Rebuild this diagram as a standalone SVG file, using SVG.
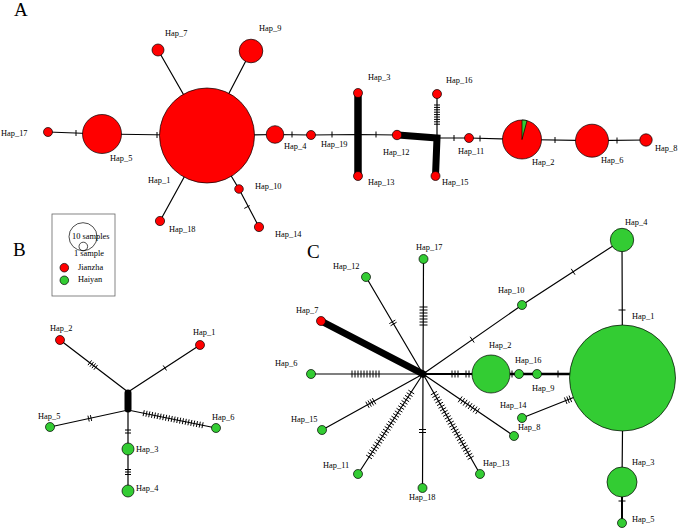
<svg xmlns="http://www.w3.org/2000/svg" width="678" height="529" viewBox="0 0 678 529">
<style>
.bg{fill:#ffffff}
.ln{stroke:#000;stroke-width:1.2;fill:none}
.thk{stroke:#000;fill:none;stroke-linecap:round}
.tk{stroke:#000;stroke-width:1;fill:none}
.r{fill:#ff0000;stroke:#000;stroke-width:0.7}
.g{fill:#33cc33;stroke:#000;stroke-width:0.7}
.w{fill:none;stroke:#000;stroke-width:0.7}
text{font-family:"Liberation Serif","Times New Roman",serif;font-size:8.4px;fill:#000}
.pl{font-size:19px}
</style>
<rect class="bg" x="0" y="0" width="678" height="529"/>

<g id="panel-labels">
<text class="pl" x="14" y="16">A</text>
<text class="pl" x="13" y="256">B</text>
<text class="pl" x="307" y="258">C</text>
</g>

<g id="connectors">
<!-- Panel A -->
<path class="ln" d="M48 132 L102 134 L207 135.5 L275 134.5 L311 135 L358 134.5 L397 135"/>
<path class="ln" d="M437 138 L469 138 L522 139.5 L592 140.7 L646 140"/>
<path class="ln" d="M158 50 L207 135.5 M251 51 L207 135.5 M160 221 L207 135.5 M207 135.5 L239 189 L259 227"/>
<path class="ln" d="M437 94 L437 138"/>
<path class="thk" stroke-width="7.5" d="M358 94 L358 176"/>
<path class="thk" stroke-width="7" d="M398 135 L437 138 L435.5 176"/>
<path class="tk" d="M76 130 v6 M157 132 v6 M292 131.5 v6 M332 131.5 v6 M376 131.5 v6 M454 135 v6 M480 135.5 v6 M555 137 v6 M617 137.5 v6 M244.3 208.4 L249.7 205.6
M434 105 h6 M434 107.4 h6 M434 109.8 h6 M434 112.2 h6 M434 114.6 h6 M434 117 h6 M434 119.4 h6 M434 121.8 h6 M434 124.2 h6"/>

<!-- Panel B -->
<path class="ln" d="M60 340 L128 392 L200 345 M50 427 L128 410 L216 428 M128 410 L128 491"/>
<path class="thk" stroke-width="7" d="M128 393 L128 409"/>
<path class="tk" d="M87.96 365.14 l3.64 -4.76 M89.94 366.66 l3.64 -4.76 M91.93 368.18 l3.64 -4.76 M93.91 369.70 l3.64 -4.76
M163.21 365.46 l3.28 5.02
M87.95 415.66 l1.28 5.86 M90.39 415.12 l1.28 5.86
M125 430 h6 M125 433 h6
M125 469.5 h6 M125 472 h6 M125 474.5 h6
M144.28 410.26 l-1.2 5.88 M147.08 410.83 l-1.2 5.88 M149.89 411.40 l-1.2 5.88 M152.69 411.98 l-1.2 5.88 M155.49 412.55 l-1.2 5.88 M158.29 413.12 l-1.2 5.88 M161.10 413.69 l-1.2 5.88 M163.90 414.26 l-1.2 5.88 M166.70 414.84 l-1.2 5.88 M169.51 415.41 l-1.2 5.88 M172.31 415.98 l-1.2 5.88 M175.11 416.55 l-1.2 5.88 M177.91 417.12 l-1.2 5.88 M180.72 417.70 l-1.2 5.88 M183.52 418.27 l-1.2 5.88 M186.32 418.84 l-1.2 5.88 M189.12 419.41 l-1.2 5.88 M191.93 419.98 l-1.2 5.88 M194.73 420.56 l-1.2 5.88 M197.53 421.13 l-1.2 5.88 M200.34 421.70 l-1.2 5.88 M203.14 422.27 l-1.2 5.88"/>

<!-- Panel C -->
<path class="ln" d="M423 374 L423.5 259 M423 374 L366 277 M423 374 L522 305 L622 240 L622.5 378 M423 374 L311 374 M423 374 L322 430 M423 374 L358 474 M423 374 L422.5 488 M423 374 L480 474 M423 374 L514 436 M522 418 L622.5 378 M622.5 431 L622 482"/>
<path class="thk" stroke-width="7" d="M321 321 L423 374"/>
<path class="thk" stroke-width="2" d="M423 374 L472 374"/>
<path class="thk" stroke-width="2.4" d="M472 374 L570 374"/>
<path class="thk" stroke-width="2" d="M622 497 L622 523"/>
<path class="tk" d="M419.5 307 h8 M419.5 310 h8 M419.5 313 h8 M419.5 316 h8 M419.5 319 h8 M419.5 322 h8 M419.5 325 h8
M390.57 325.77 l6.04 -3.54 M389.31 323.62 l6.04 -3.54
M470.2 336.81 l4 5.74 M571.21 268.83 l3.82 5.86
M352 370.5 v7 M355 370.5 v7 M358 370.5 v7 M361 370.5 v7 M364 370.5 v7 M367 370.5 v7 M370 370.5 v7 M373 370.5 v7 M376 370.5 v7 M379 370.5 v7
M452 370.5 v7 M455 370.5 v7 M458 370.5 v7 M466 370.5 v7 M469 370.5 v7 M512 370.5 v7 M558 370.5 v7
M618.5 310 h7 M618.5 501 h7
M419 429.5 h7 M419 432.5 h7
M564.42 397.44 l2.58 6.52 M566.75 396.52 l2.58 6.52 M569.07 395.60 l2.58 6.52
M462.14 396.45 l-3.94 5.78 M464.62 398.13 l-3.94 5.78 M467.10 399.82 l-3.94 5.78 M469.57 401.51 l-3.94 5.78 M472.05 403.20 l-3.94 5.78 M474.53 404.89 l-3.94 5.78 M477.01 406.58 l-3.94 5.78 M479.49 408.27 l-3.94 5.78
M372.36 398.10 l3.4 6.12 M370.17 399.31 l3.4 6.12 M367.99 400.53 l3.4 6.12 M365.80 401.74 l3.4 6.12
M436.93 391.39 l-6.08 3.46 M438.46 394.08 l-6.08 3.46 M440.00 396.78 l-6.08 3.46 M441.53 399.47 l-6.08 3.46 M443.07 402.16 l-6.08 3.46 M444.60 404.86 l-6.08 3.46 M446.14 407.55 l-6.08 3.46 M447.67 410.25 l-6.08 3.46 M449.21 412.94 l-6.08 3.46 M450.74 415.63 l-6.08 3.46 M452.28 418.33 l-6.08 3.46 M453.81 421.02 l-6.08 3.46 M455.34 423.71 l-6.08 3.46 M456.88 426.41 l-6.08 3.46 M458.41 429.10 l-6.08 3.46 M459.95 431.80 l-6.08 3.46 M461.48 434.49 l-6.08 3.46 M463.02 437.18 l-6.08 3.46 M464.55 439.88 l-6.08 3.46 M466.09 442.57 l-6.08 3.46 M467.62 445.26 l-6.08 3.46 M469.15 447.96 l-6.08 3.46 M470.69 450.65 l-6.08 3.46 M472.22 453.35 l-6.08 3.46 M473.76 456.04 l-6.08 3.46
M408.35 390.11 l5.86 3.82 M406.66 392.70 l5.86 3.82 M404.97 395.30 l5.86 3.82 M403.28 397.90 l5.86 3.82 M401.59 400.50 l5.86 3.82 M399.91 403.10 l5.86 3.82 M398.22 405.69 l5.86 3.82 M396.53 408.29 l5.86 3.82 M394.84 410.89 l5.86 3.82 M393.15 413.49 l5.86 3.82 M391.46 416.08 l5.86 3.82 M389.77 418.68 l5.86 3.82 M388.08 421.28 l5.86 3.82 M386.39 423.88 l5.86 3.82 M384.70 426.48 l5.86 3.82 M383.01 429.07 l5.86 3.82 M381.32 431.67 l5.86 3.82 M379.63 434.27 l5.86 3.82 M377.94 436.87 l5.86 3.82 M376.25 439.47 l5.86 3.82 M374.56 442.06 l5.86 3.82 M372.87 444.66 l5.86 3.82 M371.18 447.26 l5.86 3.82 M369.49 449.86 l5.86 3.82 M367.80 452.45 l5.86 3.82 M366.12 455.05 l5.86 3.82"/>
</g>

<!-- Panel A nodes -->
<g id="A-Hap_1"><circle class="r" cx="207" cy="135.5" r="47.5"/><text x="148" y="183">Hap_1</text></g>
<g id="A-Hap_2"><circle class="r" cx="522" cy="139.5" r="19.5"/><path class="g" stroke-width="0.4" d="M522 139.5 L522 120 A19.5 19.5 0 0 1 527.05 120.66 Z"/><text x="532" y="165">Hap_2</text></g>
<g id="A-Hap_3"><circle class="r" cx="358" cy="93" r="4.5"/><text x="368" y="80">Hap_3</text></g>
<g id="A-Hap_4"><circle class="r" cx="275" cy="134.5" r="8.8"/><text x="284" y="149">Hap_4</text></g>
<g id="A-Hap_5"><circle class="r" cx="102" cy="134" r="19.5"/><text x="110" y="161">Hap_5</text></g>
<g id="A-Hap_6"><circle class="r" cx="592" cy="140.7" r="16.5"/><text x="601" y="163">Hap_6</text></g>
<g id="A-Hap_7"><circle class="r" cx="158" cy="50" r="6"/><text x="165" y="36">Hap_7</text></g>
<g id="A-Hap_8"><circle class="r" cx="646" cy="140" r="6.2"/><text x="655" y="151">Hap_8</text></g>
<g id="A-Hap_9"><circle class="r" cx="251" cy="51" r="11.8"/><text x="259" y="31">Hap_9</text></g>
<g id="A-Hap_10"><circle class="r" cx="239" cy="189" r="4.3"/><text x="255" y="189">Hap_10</text></g>
<g id="A-Hap_11"><circle class="r" cx="469" cy="138" r="4.5"/><text x="458" y="154">Hap_11</text></g>
<g id="A-Hap_12"><circle class="r" cx="397" cy="135" r="4.7"/><text x="383" y="155">Hap_12</text></g>
<g id="A-Hap_13"><circle class="r" cx="358" cy="176" r="4.5"/><text x="368" y="185">Hap_13</text></g>
<g id="A-Hap_14"><circle class="r" cx="259" cy="227" r="4.6"/><text x="275" y="237">Hap_14</text></g>
<g id="A-Hap_15"><circle class="r" cx="435.5" cy="176" r="4.5"/><text x="442" y="185">Hap_15</text></g>
<g id="A-Hap_16"><circle class="r" cx="437" cy="94" r="4.5"/><text x="446" y="83">Hap_16</text></g>
<g id="A-Hap_17"><circle class="r" cx="48" cy="132" r="4.5"/><text x="1" y="136">Hap_17</text></g>
<g id="A-Hap_18"><circle class="r" cx="160" cy="221" r="4.6"/><text x="169" y="232">Hap_18</text></g>
<g id="A-Hap_19"><circle class="r" cx="311" cy="135" r="4.5"/><text x="321" y="147">Hap_19</text></g>

<!-- Legend -->
<g id="legend">
<rect x="52" y="214" width="63" height="82" fill="none" stroke="#666" stroke-width="0.8"/>
<circle class="w" cx="83" cy="236.7" r="14"/>
<circle class="w" cx="83.3" cy="246.5" r="4.3"/>
<text x="72" y="239">10 samples</text>
<text x="74" y="256">1 sample</text>
<circle class="r" cx="64.3" cy="267.7" r="4.3"/><text x="78" y="270">Jianzha</text>
<circle class="g" cx="64.3" cy="280.3" r="4.3"/><text x="78" y="282">Haiyan</text>
</g>

<!-- Panel B nodes -->
<g id="B-Hap_1"><circle class="r" cx="200" cy="345" r="4.5"/><text x="193" y="335">Hap_1</text></g>
<g id="B-Hap_2"><circle class="r" cx="60" cy="340" r="4.5"/><text x="50" y="331">Hap_2</text></g>
<g id="B-Hap_3"><circle class="g" cx="128" cy="449" r="6"/><text x="136" y="452">Hap_3</text></g>
<g id="B-Hap_4"><circle class="g" cx="128" cy="491" r="6"/><text x="136" y="491">Hap_4</text></g>
<g id="B-Hap_5"><circle class="g" cx="50" cy="427" r="4.5"/><text x="38" y="419">Hap_5</text></g>
<g id="B-Hap_6"><circle class="g" cx="216" cy="428" r="4.5"/><text x="212" y="420">Hap_6</text></g>

<!-- Panel C nodes -->
<g id="C-hub"><circle cx="423" cy="374" r="3.5" fill="#000"/></g>
<g id="C-Hap_1"><circle class="g" cx="622.5" cy="378" r="53"/><text x="632" y="319">Hap_1</text></g>
<g id="C-Hap_2"><circle class="g" cx="491" cy="374" r="19"/><text x="489" y="348">Hap_2</text></g>
<g id="C-Hap_3"><circle class="g" cx="622" cy="482" r="15"/><text x="632" y="465">Hap_3</text></g>
<g id="C-Hap_4"><circle class="g" cx="622" cy="240" r="11.7"/><text x="625" y="225">Hap_4</text></g>
<g id="C-Hap_5"><circle class="g" cx="622" cy="523" r="4.5"/><text x="632" y="522">Hap_5</text></g>
<g id="C-Hap_6"><circle class="g" cx="311" cy="374" r="4.5"/><text x="275" y="366">Hap_6</text></g>
<g id="C-Hap_7"><circle class="r" cx="321" cy="321" r="4.5"/><text x="296" y="313">Hap_7</text></g>
<g id="C-Hap_8"><circle class="g" cx="514" cy="436" r="4.5"/><text x="518" y="430">Hap_8</text></g>
<g id="C-Hap_9"><circle class="g" cx="537" cy="374" r="4.5"/><text x="532" y="391">Hap_9</text></g>
<g id="C-Hap_10"><circle class="g" cx="522" cy="305" r="4.5"/><text x="498" y="293">Hap_10</text></g>
<g id="C-Hap_11"><circle class="g" cx="358" cy="474" r="4.5"/><text x="323" y="468">Hap_11</text></g>
<g id="C-Hap_12"><circle class="g" cx="366" cy="277" r="4.5"/><text x="333" y="269">Hap_12</text></g>
<g id="C-Hap_13"><circle class="g" cx="480" cy="474" r="4.5"/><text x="483" y="466">Hap_13</text></g>
<g id="C-Hap_14"><circle class="g" cx="522" cy="418" r="4.5"/><text x="500" y="408">Hap_14</text></g>
<g id="C-Hap_15"><circle class="g" cx="322" cy="430" r="4.5"/><text x="291" y="422">Hap_15</text></g>
<g id="C-Hap_16"><circle class="g" cx="519" cy="374" r="4.5"/><text x="515" y="363">Hap_16</text></g>
<g id="C-Hap_17"><circle class="g" cx="423.5" cy="259" r="4.5"/><text x="416" y="250">Hap_17</text></g>
<g id="C-Hap_18"><circle class="g" cx="422.5" cy="488" r="4.5"/><text x="409" y="500">Hap_18</text></g>
</svg>
